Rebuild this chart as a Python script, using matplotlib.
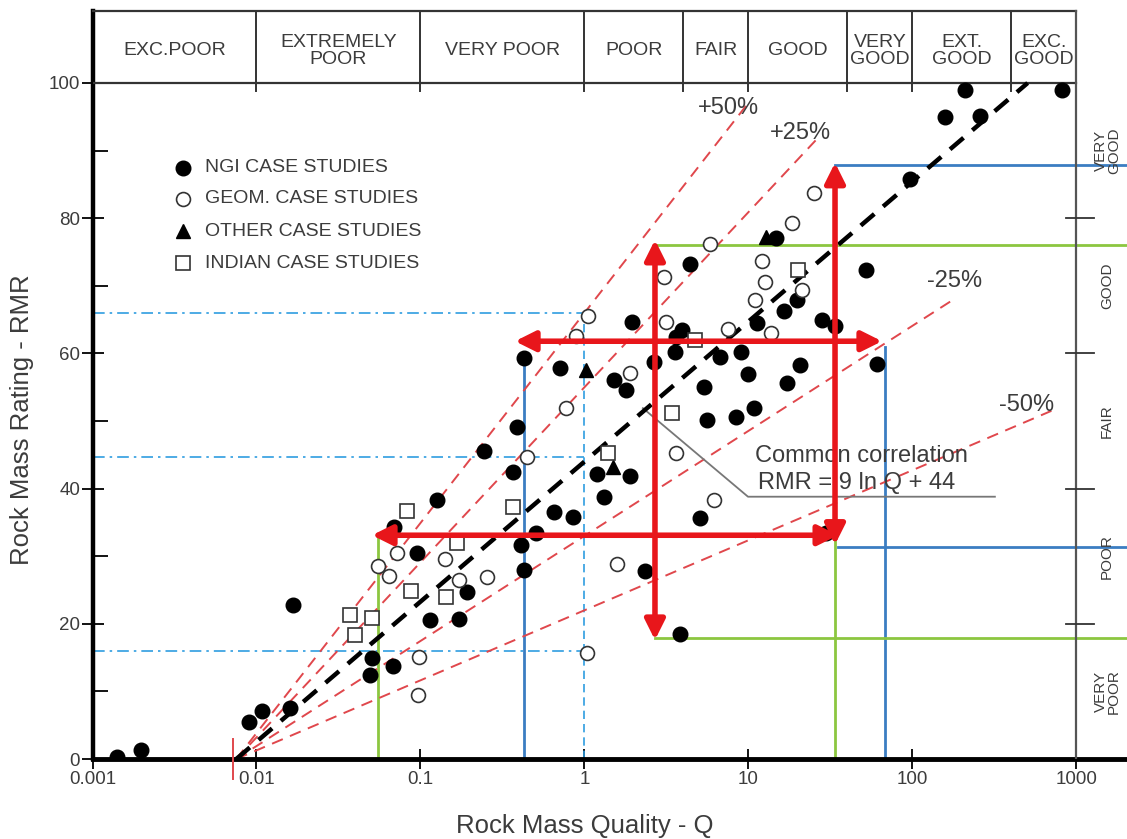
import numpy as np
import matplotlib.pyplot as plt
from matplotlib.ticker import FixedLocator, NullLocator, FixedFormatter

plt.rcParams['font.family'] = ['Liberation Sans', 'DejaVu Sans']

# ---- case study data (Q, RMR) ----
ngi_q = [0.00141, 0.00198, 0.0090, 0.0108, 0.016, 0.0167, 0.049, 0.0506, 0.068, 0.0686,
         0.095, 0.114, 0.126, 0.172, 0.192, 0.244, 0.366, 0.387, 0.41, 0.428,
         0.428, 0.506, 0.652, 0.707, 0.851, 1.19, 1.32, 1.51, 1.79, 1.89,
         1.95, 2.34, 2.65, 3.62, 3.82, 3.93, 4.37, 3.55, 5.06, 5.36,
         5.58, 6.7, 8.4, 9.0, 9.93, 10.8, 11.3, 17.2, 14.7, 16.5,
         19.8, 20.6, 28.0, 33.7, 52.0, 60.7, 96.6, 158, 209, 258,
         817, 29.5]
ngi_rmr = [0.3, 1.3, 5.5, 7.1, 7.5, 22.8, 12.4, 15.0, 13.8, 34.3,
           30.5, 20.6, 38.3, 20.7, 24.7, 45.6, 42.5, 49.1, 31.7, 28.0,
           59.3, 33.4, 36.5, 57.8, 35.8, 42.2, 38.8, 56.0, 54.6, 41.9,
           64.6, 27.8, 58.7, 62.4, 18.5, 63.5, 73.2, 60.2, 35.7, 55.0,
           50.1, 59.5, 50.6, 60.2, 57.0, 51.9, 64.5, 55.6, 77.1, 66.3,
           67.9, 58.3, 65.0, 64.0, 72.3, 58.4, 85.8, 95.0, 99.0, 95.1,
           99.0, 33.5]

geom_q = [0.055, 0.064, 0.072, 0.098, 0.097, 0.141, 0.172, 0.254, 0.445, 0.77,
          0.887, 1.05, 1.03, 1.58, 1.89, 3.05, 3.14, 3.62, 5.82, 6.17,
          7.5, 11.0, 12.1, 12.6, 13.7, 18.4, 21.2, 25.0]
geom_rmr = [28.6, 27.0, 30.5, 15.1, 9.5, 29.6, 26.5, 26.9, 44.7, 51.9,
            62.6, 65.5, 15.7, 28.8, 57.1, 71.3, 64.6, 45.3, 76.2, 38.3,
            63.6, 67.9, 73.7, 70.6, 63.0, 79.3, 69.4, 83.7]

other_q = [1.02, 1.49, 12.8]
other_rmr = [57.5, 43.2, 77.2]

indian_q = [0.037, 0.040, 0.0506, 0.083, 0.0875, 0.143, 0.167, 0.366, 1.39, 3.42, 4.72, 20.1]
indian_rmr = [21.3, 18.3, 20.9, 36.7, 24.9, 24.0, 32.0, 37.3, 45.3, 51.2, 62.0, 72.3]

series_labels = ['NGI CASE STUDIES', 'GEOM. CASE STUDIES', 'OTHER CASE STUDIES', 'INDIAN CASE STUDIES']

# ---- correlation RMR = 9 ln Q + 44 and percentage bands ----
corr_a, corr_b = 9.0, 44.0
band_pcts = [50, 25, -25, -50]
band_top_rmr = [97.5, 91.5, 68.0, 51.5]
band_label_q = [7.5, 20.6, 181, 499]
band_label_rmr = [96.3, 92.6, 70.7, 52.4]

# ---- classification bands ----
q_bounds = [0.001, 0.01, 0.1, 1, 4, 10, 40, 100, 400, 1000]
q_classes = ['EXC.POOR', 'EXTREMELY\nPOOR', 'VERY POOR', 'POOR', 'FAIR', 'GOOD',
             'VERY\nGOOD', 'EXT.\nGOOD', 'EXC.\nGOOD']
rmr_bounds = [0, 20, 40, 60, 80, 100]
rmr_classes = ['VERY\nPOOR', 'POOR', 'FAIR', 'GOOD', 'VERY\nGOOD']

x_ticks = [0.001, 0.01, 0.1, 1, 10, 100, 1000]
x_ticklabels = ['0.001', '0.01', '0.1', '1', '10', '100', '1000']
y_ticks = [0, 20, 40, 60, 80, 100]

RED = '#e8161b'
RED_DASH = '#e0474c'
BLUE = '#3b7dc2'
LBLUE = '#2f9de0'
GREEN = '#8cc640'
GRAY_TXT = '#3c3c3c'

fig = plt.figure(figsize=(11.27, 8.39), dpi=100)
ax = fig.add_axes([92.5 / 1127, 80 / 839, (1127 - 92.5) / 1127, 752.4 / 839])
ax.set_xscale('log')
ax.set_xlim(1e-3, 10 ** 3.308)
ax.set_ylim(0, 111.3)

# axes styling
for s in ['top', 'right']:
    ax.spines[s].set_visible(False)
ax.spines['bottom'].set_linewidth(3.5)
ax.spines['left'].set_linewidth(3.2)
ax.spines['left'].set_bounds(0, 110.6)
ax.xaxis.set_major_locator(FixedLocator(x_ticks))
ax.xaxis.set_major_formatter(FixedFormatter(x_ticklabels))
ax.xaxis.set_minor_locator(NullLocator())
ax.yaxis.set_major_locator(FixedLocator(y_ticks))
ax.yaxis.set_minor_locator(FixedLocator([10, 30, 50, 70, 90]))
ax.tick_params(axis='x', which='major', direction='inout', length=14, width=1.3,
               labelsize=13.5, labelcolor=GRAY_TXT, pad=2)
ax.tick_params(axis='y', which='major', direction='inout', length=16, width=1.3,
               labelsize=13.5, labelcolor=GRAY_TXT, pad=1)
ax.tick_params(axis='y', which='minor', direction='in', length=11, width=1.3)

fig.text(585 / 1127, 1 - 826 / 839, 'Rock Mass Quality - Q', ha='center', va='center',
         fontsize=18.5, color=GRAY_TXT)
fig.text(22 / 1127, 1 - 420 / 839, 'Rock Mass Rating - RMR', ha='center', va='center',
         rotation=90, fontsize=18.5, color=GRAY_TXT)

# Q classification band along the top
band_lo, band_hi = 100, 110.6
ax.plot([q_bounds[0], q_bounds[-1]], [band_lo, band_lo], color='#333', lw=1.6, zorder=3)
ax.plot([q_bounds[0], q_bounds[-1]], [band_hi, band_hi], color='#333', lw=1.6, zorder=3,
        clip_on=False)
for qb in q_bounds[1:-1]:
    ax.plot([qb, qb], [98.8, band_hi], color='#333', lw=1.4, zorder=3)
ax.plot([q_bounds[-1], q_bounds[-1]], [0, band_hi], color='#555', lw=1.6, zorder=3)
for lo, hi, name in zip(q_bounds[:-1], q_bounds[1:], q_classes):
    ax.text(np.sqrt(lo * hi), 104.8, name, ha='center', va='center', fontsize=14,
            color=GRAY_TXT, linespacing=1.0)

# RMR classification column on the right
for rb in rmr_bounds[1:-1]:
    ax.plot([863, 1280], [rb, rb], color='#333', lw=1.3, zorder=3)
for lo, hi, name in zip(rmr_bounds[:-1], rmr_bounds[1:], rmr_classes):
    ax.text(1540, (lo + hi) / 2, name, ha='center', va='center', rotation=90,
            fontsize=11, color=GRAY_TXT, linespacing=0.95)

# guide lines (light blue dash-dot)
guide_rmr = [66, 44.7, 16]
for r in guide_rmr:
    ax.plot([1e-3, 1], [r, r], color=LBLUE, lw=1.2, dashes=(7, 3, 1.5, 3), zorder=2)
ax.plot([1, 1], [0, max(guide_rmr)], color=LBLUE, lw=1.2, dashes=(5, 3), zorder=2)

# blue boundaries
ax.plot([0.428, 0.428], [0, 60], color=BLUE, lw=2, zorder=2)
ax.plot([67.9, 67.9], [0, 61], color=BLUE, lw=2, zorder=2)
ax.plot([33.7, 3000], [87.9, 87.9], color=BLUE, lw=2, zorder=2)
ax.plot([35.2, 3000], [31.4, 31.4], color=BLUE, lw=2, zorder=2)

# green boundaries
ax.plot([0.055, 0.055], [0, 33], color=GREEN, lw=2, zorder=2)
ax.plot([33.7, 33.7], [0, 33], color=GREEN, lw=2, zorder=2)
ax.plot([2.69, 3000], [76.0, 76.0], color=GREEN, lw=2, zorder=2)
ax.plot([2.69, 3000], [17.9, 17.9], color=GREEN, lw=2, zorder=2)

# correlation line and percentage bands
q0 = np.exp(-corr_b / corr_a)
for pct, rtop, lq, lr in zip(band_pcts, band_top_rmr, band_label_q, band_label_rmr):
    f = 1 + pct / 100.0
    r = np.linspace(0, rtop, 200)
    q = np.exp(r / (corr_a * f) + np.log(q0))
    ax.plot(q, r, color=RED_DASH, lw=1.4, dashes=(6, 4), zorder=2)
    ax.text(lq, lr, f'{pct:+d}%', ha='center', va='center', fontsize=17, color=GRAY_TXT)
r = np.linspace(0, 100, 200)
ax.plot(np.exp((r - corr_b) / corr_a), r, color='black', lw=3.2, dashes=(4, 2.6), zorder=4)
ax.plot([q0 * 0.96, q0 * 0.96], [-3, 3], color=RED_DASH, lw=1.4, clip_on=False, zorder=5)

# annotation for the common correlation
ax.plot([2.27, 9.93, 318], [51.9, 38.8, 38.8], color='#777', lw=1.3, zorder=3)
ax.text(11, 44.8, 'Common correlation', ha='left', va='center', fontsize=17, color=GRAY_TXT)
ax.text(11.4, 40.8, 'RMR = 9 ln Q + 44', ha='left', va='center', fontsize=17, color=GRAY_TXT)

# case study markers
ngi_style = dict(marker='o', ms=10.5, mfc='black', mec='black', ls='none')
geom_style = dict(marker='o', ms=10, mfc='white', mec='#333', mew=1.2, ls='none')
other_style = dict(marker='^', ms=10.5, mfc='black', mec='black', ls='none')
indian_style = dict(marker='s', ms=9.5, mfc='white', mec='#333', mew=1.2, ls='none')
styles = [ngi_style, geom_style, other_style, indian_style]
for (qq, rr), st in zip([(ngi_q, ngi_rmr), (geom_q, geom_rmr), (other_q, other_rmr),
                         (indian_q, indian_rmr)], styles):
    ax.plot(qq, rr, zorder=5, **st)

# legend
leg_rows = [0.7858, 0.7443, 0.7015, 0.6586]
for yy, st, lab in zip(leg_rows, styles, series_labels):
    ax.plot([0.0875], [yy], transform=ax.transAxes, **st)
    ax.text(0.1087, yy, lab, transform=ax.transAxes, ha='left', va='center',
            fontsize=14, color=GRAY_TXT)

# red arrows
arrow_kw = dict(arrowstyle='<|-|>', color=RED, lw=4, mutation_scale=30, shrinkA=0, shrinkB=0)
for (x0, y0), (x1, y1) in [((0.377, 61.8), (65.2, 61.8)),
                           ((0.0506, 33.1), (35.2, 33.1)),
                           ((2.69, 17.6), (2.69, 76.8)),
                           ((33.7, 31.7), (33.7, 88.2))]:
    ax.annotate('', xy=(x1, y1), xytext=(x0, y0), arrowprops=arrow_kw, zorder=6)

fig.savefig('out.png', dpi=100)
